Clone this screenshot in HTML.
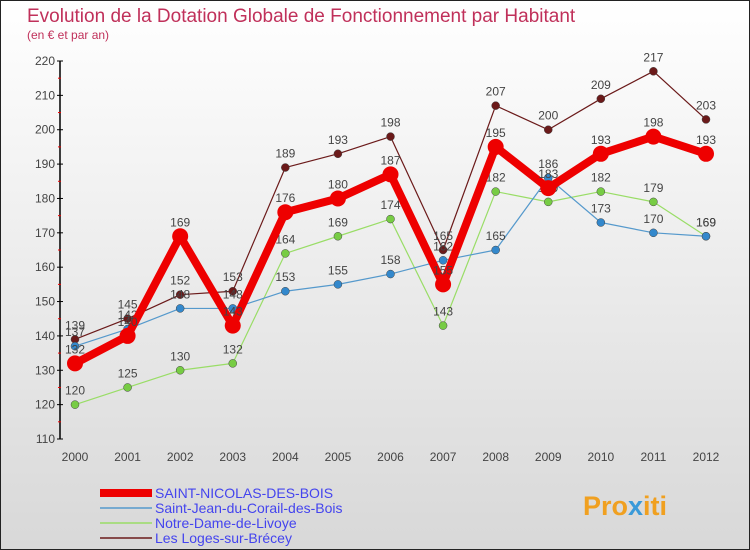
<!DOCTYPE html>
<html><head><meta charset="utf-8"><style>
body{margin:0;padding:0}
#c{width:750px;height:550px;position:relative;overflow:hidden;font-family:"Liberation Sans",sans-serif}
</style></head><body>
<div id="c">
<svg id="s" width="750" height="550" xmlns="http://www.w3.org/2000/svg">
<defs><linearGradient id="bg" x1="0" y1="0" x2="0" y2="1"><stop offset="0" stop-color="#ffffff"/><stop offset="1" stop-color="#d8d8d8"/></linearGradient></defs>
<rect x="0.5" y="0.5" width="749" height="549" fill="url(#bg)" stroke="#222"/>
<text x="27" y="22" font-size="19" fill="#c0305a">Evolution de la Dotation Globale de Fonctionnement par Habitant</text>
<text x="27" y="39" font-size="12" fill="#c0305a">(en € et par an)</text>
<g id="axes"></g><g id="series"></g><g id="legend"></g>
<text x="583" y="515" font-size="27" font-weight="bold" fill="#f0a020">Pro<tspan fill="#3a9ad9">x</tspan>iti</text>
</svg>
<script>
const years=[2000,2001,2002,2003,2004,2005,2006,2007,2008,2009,2010,2011,2012];
const yTicks=[110,120,130,140,150,160,170,180,190,200,210,220];
const seriesNames=["SAINT-NICOLAS-DES-BOIS","Saint-Jean-du-Corail-des-Bois","Notre-Dame-de-Livoye","Les Loges-sur-Brécey"];
const stNicolas=[132,140,169,143,176,180,187,155,195,183,193,198,193];
const stJean=[137,142,148,148,153,155,158,162,165,186,173,170,169];
const notreDame=[120,125,130,132,164,169,174,143,182,179,182,179,169];
const lesLoges=[139,145,152,153,189,193,198,165,207,200,209,217,203];
const NS="http://www.w3.org/2000/svg";
const X=i=>75+i*(706-75)/12;
const Y=v=>439-(v-110)*(439-61)/110;
function mk(t,a,p){const e=document.createElementNS(NS,t);for(const k in a)e.setAttribute(k,a[k]);p.appendChild(e);return e;}
const ax=document.getElementById('axes');
const yl=mk('line',{x1:60,y1:Y(220),x2:60,y2:Y(110),stroke:'#000','stroke-width':1.5},ax);


yTicks.forEach((v,i)=>{
 mk('line',{x1:57,y1:Y(v),x2:63,y2:Y(v),stroke:'#000'},ax);
 const t=mk('text',{x:55,y:Y(v)+4,'font-size':12,fill:'#444','text-anchor':'end'},ax);t.textContent=v;
 
 
 if(i<yTicks.length-1)mk('line',{x1:58,y1:Y(v+5),x2:61,y2:Y(v+5),stroke:'#e00'},ax);
});
years.forEach((y,i)=>{
 const t=mk('text',{x:X(i),y:Y(110)+22,'font-size':12,fill:'#444','text-anchor':'middle'},ax);t.textContent=y;
 
 
});
const sg=document.getElementById('series');
const cfg=[[lesLoges,'#6b1a1a','#6b1a1a',1.2,4],[notreDame,'#99dd66','#77cc44',1.2,4],[stJean,'#5599cc','#3388cc',1.2,4],[stNicolas,'#ee0000','#ee0000',8,8]];
const order=[3,2,1,0];
cfg.forEach((c,k)=>{
 const [d,col,dot,w,r]=c;
 const g=mk('g',{},sg);
 
 
 const p=mk('polyline',{points:d.map((v,i)=>X(i)+','+Y(v)).join(' '),fill:'none',stroke:col,'stroke-width':w,'stroke-linejoin':'round'},g);
 
 
 d.forEach((v,i)=>{
  const m=mk('circle',{cx:X(i),cy:Y(v),r:r,fill:dot,stroke:k==3?'none':'#444','stroke-width':0.5},g);
  
  
  const t=mk('text',{x:X(i),y:Y(v)-10,'font-size':12,fill:'#444','text-anchor':'middle'},g);t.textContent=v;
  
  
 });
});
const lg=document.getElementById('legend');
const lc=[['#ee0000',8],['#5599cc',1.5],['#99dd66',1.5],['#6b1a1a',1.5]];
seriesNames.forEach((n,i)=>{
 const y=493+i*15;
 const g=mk('g',{},lg);
 
 
 mk('line',{x1:100,y1:y,x2:152,y2:y,stroke:lc[i][0],'stroke-width':lc[i][1]},g);
 const t=mk('text',{x:155,y:y+5,'font-size':14,fill:'#4444ee'},g);t.textContent=n;
});
</script>
</div>
</body></html>
